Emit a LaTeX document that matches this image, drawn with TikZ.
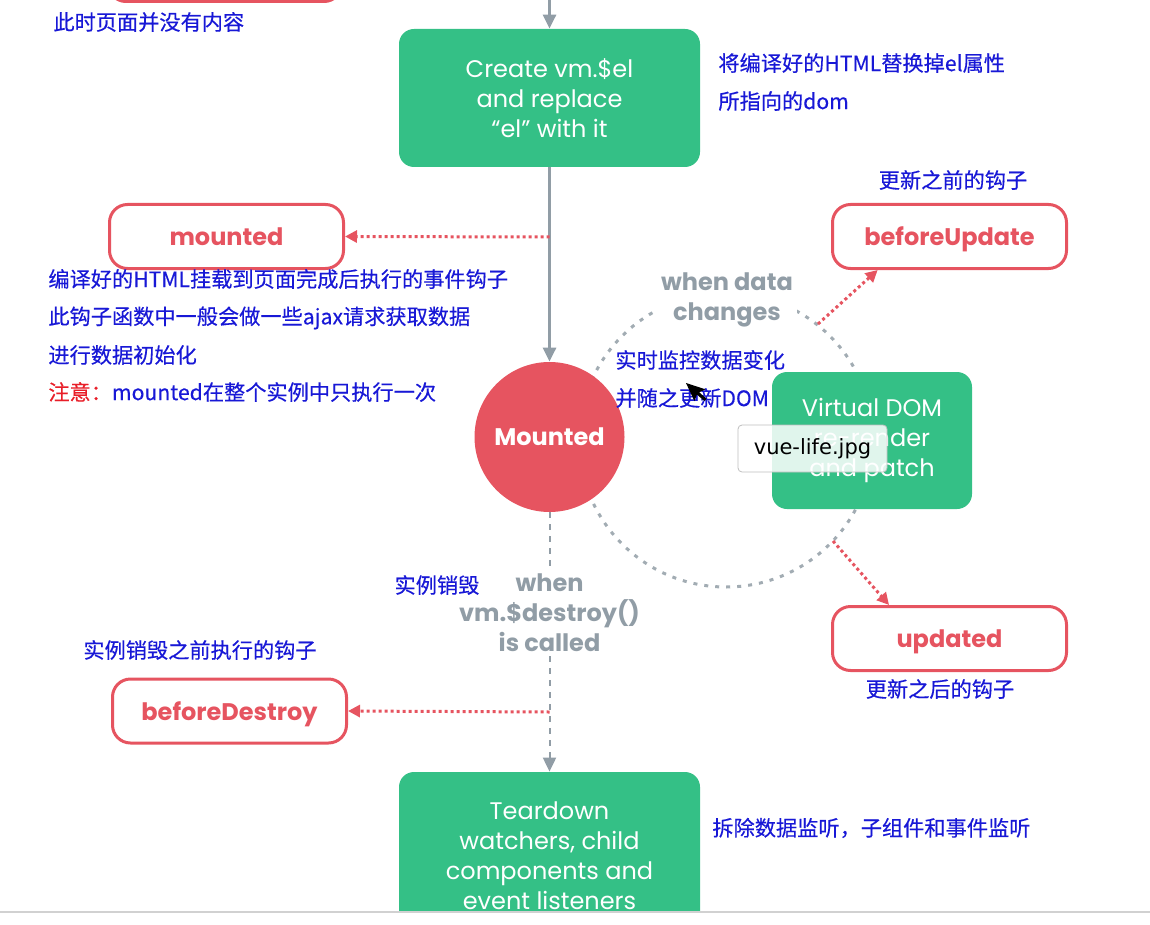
\documentclass[tikz,border=0pt]{standalone}
\usepackage{fontspec}
\setmainfont{Poppins}
\newfontfamily\cjk[FakeBold=0.35]{Noto Sans CJK SC}
\newfontfamily\tipfont{DejaVu Sans}
\usetikzlibrary{arrows.meta,positioning}

\definecolor{vuegreen}{RGB}{52,192,134}
\definecolor{vuered}{RGB}{230,84,96}
\definecolor{vuegray}{RGB}{145,157,166}
\definecolor{noteblue}{RGB}{24,24,214}
\definecolor{notered}{RGB}{232,30,40}

\begin{document}
\begin{tikzpicture}
	% Styles
	[
	x=0.5pt,y=-0.5pt,
	lifebox/.style={rectangle,rounded corners=7.5pt,fill=vuegreen,text=white,align=center,inner sep=0pt,minimum width=150.5pt,minimum height=69pt,font={\fontsize{12}{15}\selectfont}},
	hookbox/.style={rectangle,rounded corners=9pt,draw=vuered,line width=1.5pt,fill=white,text=vuered,inner sep=0pt,text height=9pt,text depth=0pt,minimum width=117pt,minimum height=32pt,font={\fontsize{12}{15}\selectfont\bfseries}},
	stateball/.style={circle,fill=vuered,text=white,inner sep=0pt,minimum size=75pt,font={\fontsize{12}{15}\selectfont\bfseries}},
	cnote/.style={inner sep=0pt,text=noteblue,font={\cjk\fontsize{10.6}{12}\selectfont}},
	gnote/.style={fill=white,inner sep=2pt,text=vuegray,align=center,font={\fontsize{12}{15}\selectfont\bfseries}},
	tipbox/.style={rectangle,rounded corners=2pt,draw=black!25,fill=white,fill opacity=0.85,text opacity=1,minimum width=74.5pt,minimum height=23.5pt,font={\tipfont\fontsize{10.5}{12}\selectfont}},
	flow/.style={draw=vuegray,line width=1.5pt,-{Triangle[length=7pt,width=6.5pt]}},
	dashflow/.style={draw=vuegray,line width=1pt,dash pattern=on 3pt off 3pt,-{Triangle[length=7pt,width=6.5pt]}},
	hookline/.style={draw=vuered,line width=1.5pt,dash pattern=on 1.5pt off 1.5pt,-{Triangle[length=6pt,width=6pt]}},
	cycleline/.style={draw=vuegray!85,line width=1.5pt,dash pattern=on 2pt off 3.5pt},
	]
	\useasboundingbox (0,0) rectangle (1150,925);
	\clip (0,0) rectangle (1150,925);

	% Nodes
	\coordinate (cyc)	at (726,440);
	\draw[cycleline] (cyc) circle [radius=73.5pt];

	\node at (225,-30.5)	(beforemount)	[hookbox] {};
	\node at (549.5,98)	(create)	[lifebox] {Create vm.\$el\\and replace\\“el” with it};
	\node at (226.5,236.5)	(mounted)	[hookbox] {mounted};
	\node at (549.5,437)	(mountedstate)	[stateball] {Mounted};
	\node at (949.5,236.5)	(beforeupdate)	[hookbox] {beforeUpdate};
	\node at (872,440.5)	(rerender)	[lifebox,minimum width=100pt,minimum height=68.5pt] {Virtual DOM\\re-render\\and patch};
	\node at (949.5,638.5)	(updated)	[hookbox] {updated};
	\node at (229.5,711)	(beforedestroy)	[hookbox] {beforeDestroy};
	\node at (549.5,856)	(teardown)	[lifebox,minimum height=84pt] {Teardown\\watchers, child\\components and\\event listeners};

	\coordinate (topin)	at (549.5,-10);
	\coordinate (mtap)	at (549.5,237);
	\coordinate (butap)	at (818,324);
	\coordinate (uptap)	at (833,541);
	\coordinate (bdtap)	at (549.5,712);

	% Connections
	\draw[flow] (topin) -- (create.north);
	\draw[flow] (create.south) -- (mountedstate.north);
	\draw[hookline] (mtap) -- (mounted.east);
	\draw[hookline] (butap) -- (beforeupdate.205);
	\draw[hookline] (uptap) -- (updated.151);
	\draw[dashflow] (mountedstate.south) -- (teardown.north);
	\draw[hookline] (bdtap) -- (beforedestroy.east);

	% Labels
	\node at (727,300)	(datachange)	[gnote] {when data\\changes};
	\node at (549.5,613)	(destroycall)	[gnote] {when\\vm.\$destroy()\\is called};

	\node at (53,22)	(n1)	[cnote,anchor=west] {此时页面并没有内容};
	\node at (718,63)	(n2)	[cnote,anchor=west] {将编译好的HTML替换掉el属性};
	\node at (718,101)	(n3)	[cnote,anchor=west] {所指向的dom};
	\node at (48,279)	(n4)	[cnote,anchor=west] {编译好的HTML挂载到页面完成后执行的事件钩子};
	\node at (48,318)	(n5)	[cnote,anchor=west] {此钩子函数中一般会做一些ajax请求获取数据};
	\node at (48,355)	(n6)	[cnote,anchor=west] {进行数据初始化};
	\node at (48,392)	(n7)	[cnote,anchor=west] {\textcolor{notered}{注意：}mounted在整个实例中只执行一次};
	\node at (953,180)	(n8)	[cnote] {更新之前的钩子};
	\node at (615,360)	(n9)	[cnote,anchor=west] {实时监控数据变化};
	\node at (615,398)	(n10)	[cnote,anchor=west] {并随之更新DOM};
	\node at (437,585)	(n11)	[cnote] {实例销毁};
	\node at (200,650)	(n12)	[cnote] {实例销毁之前执行的钩子};
	\node at (940,689)	(n13)	[cnote] {更新之后的钩子};
	\node at (712,828)	(n14)	[cnote,anchor=west] {拆除数据监听，子组件和事件监听};

	% Overlay
	\node at (812.5,448.5)	(tooltip)	[tipbox] {vue-life.jpg};
	\fill[black,rotate around={25:(686,383)}] (686,383) -- (686,403) -- (691,398) -- (695,407) -- (698,406) -- (694,397) -- (701,397) -- cycle;
	\fill[white] (0,913) rectangle (1150,925);
	\draw[black!18,line width=1pt] (0,912) -- (1150,912);

\end{tikzpicture}
\end{document}
